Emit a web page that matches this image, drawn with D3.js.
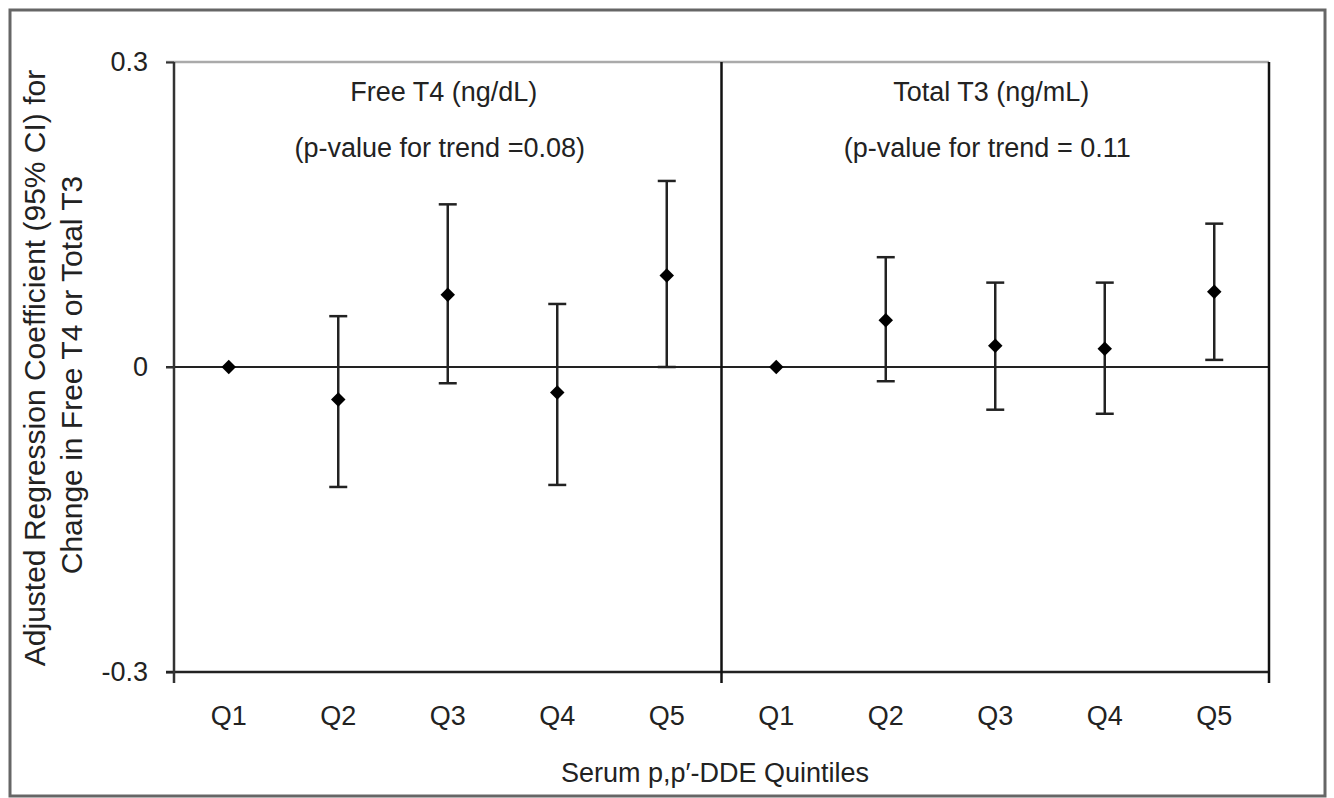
<!DOCTYPE html>
<html>
<head>
<meta charset="utf-8">
<script src="https://cdn.jsdelivr.net/npm/d3@7"></script>
<style>
  body { margin: 0; background: #fff; }
  text { font-family: "Liberation Sans", Arial, sans-serif; fill: #222; }
</style>
</head>
<body>
<div id="chart"></div>
<script>
// chart size and margins
const width = 1334;
const height = 798;
const margin = {left: 174, right: 65, top: 62, bottom: 126};

// data
const quintiles = ["Q1", "Q2", "Q3", "Q4", "Q5"];
const panelTitles = ["Free T4 (ng/dL)", "Total T3 (ng/mL)"];
const trendNotes = ["(p-value for trend =0.08)", "(p-value for trend = 0.11"];
const t4Est  = [0, -0.032, 0.071, -0.025, 0.090];
const t4Low  = [null, -0.118, -0.016, -0.116, 0.000];
const t4High = [null, 0.050, 0.160, 0.062, 0.183];
const t3Est  = [0, 0.046, 0.021, 0.018, 0.074];
const t3Low  = [null, -0.014, -0.042, -0.046, 0.007];
const t3High = [null, 0.108, 0.083, 0.083, 0.141];
const yTicks = [-0.3, 0, 0.3];

const panelData = [
  {est: t4Est, low: t4Low, high: t4High},
  {est: t3Est, low: t3Low, high: t3High}
];

// one row per point, key = panel + quintile
const rows = [];
panelData.forEach((p, pi) => {
  quintiles.forEach((q, i) => {
    rows.push({key: pi + "-" + q, q: q, panel: pi, est: p.est[i], low: p.low[i], high: p.high[i]});
  });
});

const svg = d3.select("#chart")
  .append("svg")
  .attr("width", width)
  .attr("height", height);

// outer frame
svg.append("rect")
  .attr("x", 10).attr("y", 10)
  .attr("width", 1315).attr("height", 786)
  .attr("fill", "none")
  .attr("stroke", "#666")
  .attr("stroke-width", 3);

const xScale = d3.scaleBand()
  .domain(rows.map(d => d.key))
  .range([margin.left, width - margin.right]);

const yScale = d3.scaleLinear()
  .domain([-0.3, 0.3])
  .range([height - margin.bottom, margin.top]);

const x0 = xScale.range()[0], x1 = xScale.range()[1];
const yTop = yScale(0.3), yBot = yScale(-0.3);

// top border of plot (grey)
svg.append("line")
  .attr("x1", x0 - 8).attr("x2", x1)
  .attr("y1", yTop).attr("y2", yTop)
  .attr("stroke", "#aaa").attr("stroke-width", 2.5);

// zero line
svg.append("line")
  .attr("x1", x0 - 8).attr("x2", x1)
  .attr("y1", yScale(0)).attr("y2", yScale(0))
  .attr("stroke", "#222").attr("stroke-width", 2);

// y axis
const yAxis = svg.append("g")
  .attr("transform", `translate(${x0},0)`)
  .call(d3.axisLeft(yScale)
    .tickValues(yTicks)
    .tickSize(8)
    .tickPadding(18)
    .tickFormat(d => d === 0 ? "0" : String(d)));
yAxis.select(".domain").remove();
yAxis.selectAll(".tick line").attr("stroke", "#333").attr("stroke-width", 2);
yAxis.selectAll("text").attr("font-size", "27px").style("font-family", "'Liberation Sans', Arial, sans-serif").attr("fill", "#222");

// x axis labels
const xAxis = svg.append("g")
  .attr("transform", `translate(0,${yBot})`)
  .call(d3.axisBottom(xScale)
    .tickSize(0)
    .tickPadding(34)
    .tickFormat(k => rows.find(r => r.key === k).q));
xAxis.select(".domain").remove();
xAxis.selectAll("text").attr("font-size", "27px").style("font-family", "'Liberation Sans', Arial, sans-serif").attr("fill", "#222");

// bottom axis line
svg.append("line")
  .attr("x1", x0 - 8).attr("x2", x1)
  .attr("y1", yBot).attr("y2", yBot)
  .attr("stroke", "#222").attr("stroke-width", 2.5);

// vertical lines at panel edges: left axis, divider, right edge
const edges = [x0, xScale(rows[quintiles.length].key), x1];
svg.selectAll(".edge")
  .data(edges)
  .enter()
  .append("line")
    .attr("class", "edge")
    .attr("x1", d => d).attr("x2", d => d)
    .attr("y1", yTop).attr("y2", yBot + 11)
    .attr("stroke", (d, i) => i === 0 ? "#333" : "#111")
    .attr("stroke-width", 2.5);

// panel titles
panelTitles.forEach((t, pi) => {
  const first = xScale(pi + "-" + quintiles[0]);
  const last = xScale(pi + "-" + quintiles[quintiles.length - 1]) + xScale.bandwidth();
  const cx = (first + last) / 2 - 4;
  svg.append("text")
    .attr("x", cx).attr("y", 101)
    .attr("text-anchor", "middle")
    .attr("font-size", "27px")
    .text(t);
  svg.append("text")
    .attr("x", cx - 4).attr("y", 157)
    .attr("text-anchor", "middle")
    .attr("font-size", "27px")
    .text(trendNotes[pi]);
});

// error bars
const cx = d => xScale(d.key) + xScale.bandwidth() / 2;
const withCI = rows.filter(d => d.low !== null);

svg.selectAll(".whisker")
  .data(withCI)
  .enter()
  .append("line")
    .attr("class", "whisker")
    .attr("x1", cx).attr("x2", cx)
    .attr("y1", d => yScale(d.low)).attr("y2", d => yScale(d.high))
    .attr("stroke", "#222").attr("stroke-width", 2.5);

["low", "high"].forEach(end => {
  svg.selectAll(".cap-" + end)
    .data(withCI)
    .enter()
    .append("line")
      .attr("class", "cap-" + end)
      .attr("x1", d => cx(d) - 9).attr("x2", d => cx(d) + 9)
      .attr("y1", d => yScale(d[end])).attr("y2", d => yScale(d[end]))
      .attr("stroke", "#222").attr("stroke-width", 2.5);
});

// diamond markers
svg.selectAll(".pt")
  .data(rows)
  .enter()
  .append("path")
    .attr("class", "pt")
    .attr("d", d3.symbol(d3.symbolSquare, 105))
    .attr("transform", d => `translate(${cx(d)},${yScale(d.est)}) rotate(45)`)
    .attr("fill", "#000");

// axis titles
const yTitle = svg.append("text")
  .attr("transform", "translate(45,368) rotate(-90)")
  .attr("text-anchor", "middle")
  .attr("font-size", "30px");
yTitle.append("tspan").attr("x", 0).attr("dy", 0).text("Adjusted Regression Coefficient (95% CI) for");
yTitle.append("tspan").attr("x", -7).attr("dy", 37).text("Change in Free T4 or Total T3");

svg.append("text")
  .attr("x", 715).attr("y", 782)
  .attr("text-anchor", "middle")
  .attr("font-size", "27px")
  .text("Serum p,p\u2032-DDE Quintiles");
</script>
</body>
</html>
